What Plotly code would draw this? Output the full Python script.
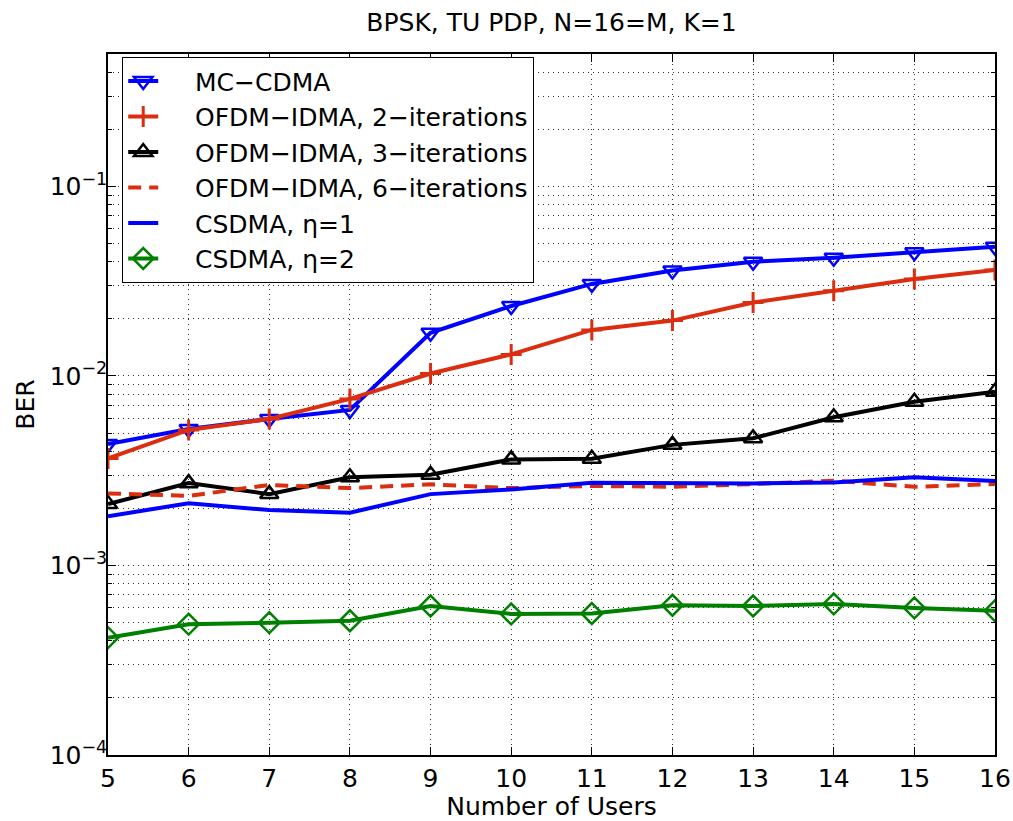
import plotly.graph_objects as go

users = [5, 6, 7, 8, 9, 10, 11, 12, 13, 14, 15, 16]

mc_cdma = [0.00437, 0.00525, 0.00593, 0.00662, 0.0169, 0.0234, 0.0306, 0.0360, 0.0401, 0.0421, 0.0450, 0.0481]
ofdm_idma_2 = [0.00367, 0.00519, 0.00593, 0.00757, 0.0103, 0.0130, 0.0175, 0.0196, 0.0244, 0.0282, 0.0325, 0.0362]
ofdm_idma_3 = [0.00211, 0.00272, 0.00238, 0.00292, 0.00301, 0.00363, 0.00366, 0.00433, 0.00469, 0.00606, 0.00731, 0.00826]
ofdm_idma_6 = [0.00240, 0.00233, 0.00266, 0.00256, 0.00268, 0.00256, 0.00263, 0.00260, 0.00269, 0.00280, 0.00260, 0.00269]
csdma_eta1 = [0.00182, 0.00213, 0.00196, 0.00190, 0.00238, 0.00252, 0.00273, 0.00271, 0.00271, 0.00274, 0.00292, 0.00279]
csdma_eta2 = [0.000416, 0.000490, 0.000499, 0.000511, 0.000611, 0.000555, 0.000558, 0.000617, 0.000611, 0.000627, 0.000597, 0.000577]

y_major = [1e-4, 1e-3, 1e-2, 1e-1]
y_major_text = ["10<sup>\u22124</sup>", "10<sup>\u22123</sup>", "10<sup>\u22122</sup>", "10<sup>\u22121</sup>"]
y_minor = [k * d for d in [1e-4, 1e-3, 1e-2, 1e-1] for k in range(2, 10) if k * d <= 0.5]

BLUE = "#0000ff"
RED = "#db2e10"
BLACK = "#000000"
GREEN = "#008000"
FONT = "DejaVu Sans"
PAD = "\u00a0" * 4

fig = go.Figure()

fig.add_trace(go.Scatter(x=users, y=mc_cdma, name=PAD + "MC\u2212CDMA", mode="lines+markers",
                         line=dict(color=BLUE, width=4),
                         marker=dict(symbol="triangle-down-open", size=16, color=BLUE, line=dict(width=2.5, color=BLUE))))
fig.add_trace(go.Scatter(x=users, y=ofdm_idma_2, name=PAD + "OFDM\u2212IDMA, 2\u2212iterations", mode="lines+markers",
                         line=dict(color=RED, width=4),
                         marker=dict(symbol="cross-thin", size=15, color=RED, line=dict(width=3, color=RED))))
fig.add_trace(go.Scatter(x=users, y=ofdm_idma_3, name=PAD + "OFDM\u2212IDMA, 3\u2212iterations", mode="lines+markers",
                         line=dict(color=BLACK, width=4),
                         marker=dict(symbol="triangle-up-open", size=16, color=BLACK, line=dict(width=2.5, color=BLACK))))
fig.add_trace(go.Scatter(x=users, y=ofdm_idma_6, name=PAD + "OFDM\u2212IDMA, 6\u2212iterations", mode="lines",
                         line=dict(color=RED, width=4, dash="13px,8px")))
fig.add_trace(go.Scatter(x=users, y=csdma_eta1, name=PAD + "CSDMA, \u03b7=1", mode="lines",
                         line=dict(color=BLUE, width=4)))
fig.add_trace(go.Scatter(x=users, y=csdma_eta2, name=PAD + "CSDMA, \u03b7=2", mode="lines+markers",
                         line=dict(color=GREEN, width=4),
                         marker=dict(symbol="diamond-open", size=16, color=GREEN, line=dict(width=2.5, color=GREEN))))

grid = dict(showgrid=True, gridcolor="#333333", gridwidth=1, griddash="1px,4px")

fig.update_layout(
    width=1013, height=821,
    margin=dict(l=108, r=18, t=54, b=66, autoexpand=False),
    paper_bgcolor="white", plot_bgcolor="white",
    font=dict(family=FONT, size=25, color="black"),
    title=dict(text="BPSK, TU PDP, N=16=M, K=1", x=0.5, xref="paper", xanchor="center",
               y=1 - 22 / 821, yref="container", yanchor="middle", font=dict(size=25)),
    showlegend=True,
    legend=dict(x=0.0158, y=0.9957, xanchor="left", yanchor="top", bgcolor="white",
                bordercolor="black", borderwidth=1.2, font=dict(size=25), tracegroupgap=0),
    xaxis=dict(range=[5, 16], tickmode="array", tickvals=users, ticks="inside", ticklen=8,
               tickcolor="black", tickwidth=1, showline=True, linecolor="black", linewidth=1.5,
               mirror="allticks", zeroline=False, automargin=False,
               title=dict(text="Number of Users", standoff=6, font=dict(size=25)),
               tickfont=dict(size=25), **grid),
    yaxis=dict(type="log", range=[-4, -0.30103], tickmode="array", tickvals=y_major, ticktext=y_major_text,
               ticks="inside", ticklen=8, tickcolor="black", tickwidth=1, showline=True,
               linecolor="black", linewidth=1.5, mirror="allticks", zeroline=False, automargin=False,
               ticklabelstandoff=-6,
               title=dict(text="BER", standoff=8, font=dict(size=25)),
               tickfont=dict(size=25),
               minor=dict(tickmode="array", tickvals=y_minor, ticks="inside", ticklen=4, tickcolor="black",
                          showgrid=True, gridcolor="#333333", gridwidth=1, griddash="1px,4px"),
               **grid),
)

fig.write_html("out.html")
